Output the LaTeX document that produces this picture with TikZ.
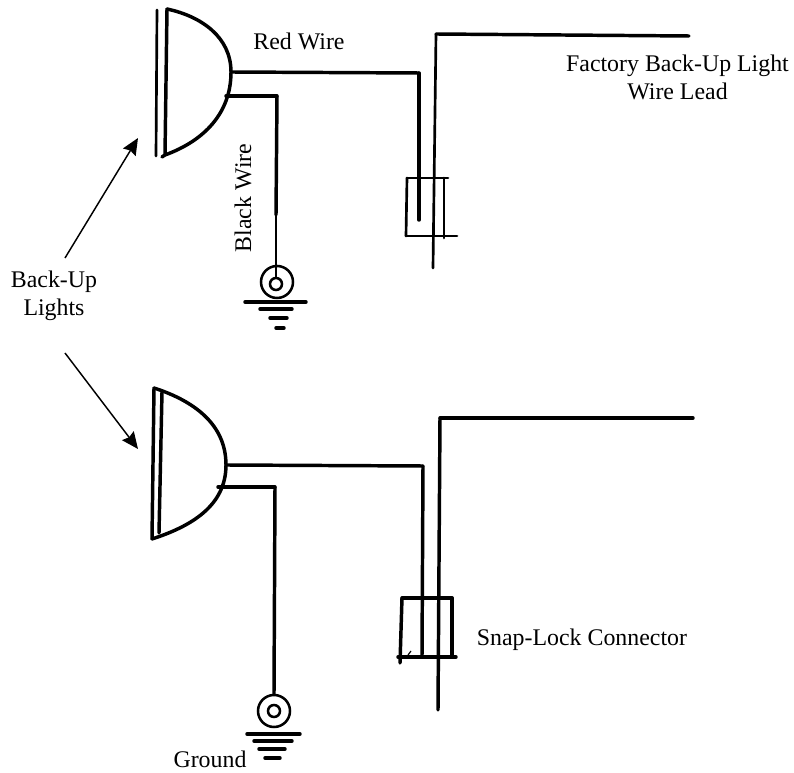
\documentclass[tikz,border=0pt]{standalone}
\usepackage{fontspec}
\setmainfont{Liberation Serif}
\usetikzlibrary{arrows.meta}
\tikzset{
	wire/.style={-,line width=2.6pt,line cap=round,line join=round},
	thin wire/.style={-,line width=2pt,line cap=round},
	pt/.style={coordinate},
	coil/.style={circle,draw,line width=1.9pt,inner sep=0pt},
	lbl/.style={font=\fontsize{17.9pt}{21pt}\selectfont,align=center,inner sep=0pt},
	pointer/.style={-{Stealth[length=12.5pt,width=11pt,inset=1.5pt]},line width=1.1pt},
}
\begin{document}
\begin{tikzpicture}[x=0.75pt,y=-0.75pt]
	\useasboundingbox (0,0) rectangle (794,773);
	% top lamp
	\node[pt] (a1) at (157,10) {};
	\node[pt] (a2) at (156,156) {}
		edge[thin wire] (a1);
	\node[pt] (a3) at (167,9) {};
	\node[pt] (a4) at (165,155) {}
		edge[wire] (a3);
	\node[pt] (a5) at (231,72) {};
	\node[pt] (a6) at (226,96) {};
	\draw[wire] (a3) to[out=-12,in=90] (a5) to[out=-90,in=20] (a4) -- (162,157);
	% top wires
	\node[pt] (a7) at (419,73) {}
		edge[wire] (a5);
	\node[pt] (a8) at (419,220) {}
		edge[wire] (a7);
	\node[pt] (a9) at (277,96) {}
		edge[wire] (a6);
	\node[coil,minimum size=24pt] (g1) at (277,282) {};
	\node[coil,minimum size=9pt] (g2) at (276,284) {};
	\draw[wire] (a9) -- (276,215);
	\draw[thin wire] (276,215) -- (g2.north);
	% top ground
	\node[pt] (b1) at (245,302) {};
	\node[pt] (b2) at (306,302) {}
		edge[wire] (b1);
	\node[pt] (b3) at (260,309) {};
	\node[pt] (b4) at (292,309) {}
		edge[wire] (b3);
	\node[pt] (b5) at (270,318) {};
	\node[pt] (b6) at (287,318) {}
		edge[wire] (b5);
	\node[pt] (b7) at (276,328) {};
	\node[pt] (b8) at (284,328) {}
		edge[wire] (b7);
	% top lead and connector
	\node[pt] (c1) at (689,36) {};
	\node[pt] (c2) at (436,34) {}
		edge[wire] (c1);
	\node[pt] (c3) at (433,268) {}
		edge[thin wire] (c2);
	\node[pt] (d1) at (407,178) {};
	\node[pt] (d2) at (448,178) {}
		edge[thin wire] (d1);
	\node[pt] (d3) at (406,236) {}
		edge[thin wire] (d1);
	\node[pt] (d4) at (457,236) {}
		edge[thin wire] (d3);
	\node[pt] (d5) at (444,178) {};
	\node[pt] (d6) at (444,238) {}
		edge[thin wire] (d5);
	% bottom lamp
	\node[pt] (e1) at (154,388) {};
	\node[pt] (e2) at (152,539) {}
		edge[wire] (e1);
	\node[pt] (e3) at (162,392) {};
	\node[pt] (e4) at (159,533) {}
		edge[wire] (e3);
	\node[pt] (e5) at (226,465) {};
	\node[pt] (e6) at (218,487) {};
	\draw[wire] (e1) to[out=-18,in=90] (e5) to[out=-90,in=18] (e2);
	% bottom wires
	\node[pt] (e7) at (423,466) {}
		edge[wire] (e5);
	\node[pt] (e8) at (422,657) {}
		edge[wire] (e7);
	\node[pt] (e9) at (275,487) {}
		edge[wire] (e6);
	\node[coil,minimum size=24pt] (g3) at (274,711) {};
	\node[coil,minimum size=9pt] (g4) at (274,711) {};
	\draw[wire] (e9) -- (g3.north);
	% bottom ground
	\node[pt] (f1) at (247,734) {};
	\node[pt] (f2) at (300,734) {}
		edge[wire] (f1);
	\node[pt] (f3) at (254,741) {};
	\node[pt] (f4) at (292,741) {}
		edge[wire] (f3);
	\node[pt] (f5) at (259,749) {};
	\node[pt] (f6) at (285,749) {}
		edge[wire] (f5);
	\node[pt] (f7) at (265,758) {};
	\node[pt] (f8) at (280,758) {}
		edge[wire] (f7);
	% bottom lead and connector
	\node[pt] (h1) at (693,418) {};
	\node[pt] (h2) at (440,418) {}
		edge[wire] (h1);
	\node[pt] (h3) at (438,710) {}
		edge[wire] (h2);
	\node[pt] (i1) at (402,598) {};
	\node[pt] (i2) at (452,598) {}
		edge[wire] (i1);
	\node[pt] (i3) at (400,663) {}
		edge[wire] (i1);
	\node[pt] (i4) at (398,657) {};
	\node[pt] (i5) at (456,657) {}
		edge[wire] (i4);
	\node[pt] (i6) at (452,657) {}
		edge[wire] (i2);
	\node[pt] (i7) at (408,655) {};
	\node[pt] (i8) at (411,651) {}
		edge[-,line width=0.9pt] (i7);
	% labels
	\node[lbl] (red) at (299,41) {Red Wire};
	\node[lbl,rotate=90] (black) at (243,198) {Black Wire};
	\node[lbl] (factory) at (677.5,77) {Factory Back-Up Light\\Wire Lead};
	\node[lbl] (snap) at (582,640) {Snap-Lock Connector};
	\node[lbl] (ground) at (210,759) {Ground};
	\node[lbl] (backup) at (54,296) {Back-Up\\Lights};
	\node[pt] (j1) at (65,258) {};
	\node[pt] (j2) at (138,138) {};
	\node[pt] (j3) at (65,353) {};
	\node[pt] (j4) at (138,449) {};
	\draw[pointer] (j1) -- (j2);
	\draw[pointer] (j3) -- (j4);
\end{tikzpicture}
\end{document}
